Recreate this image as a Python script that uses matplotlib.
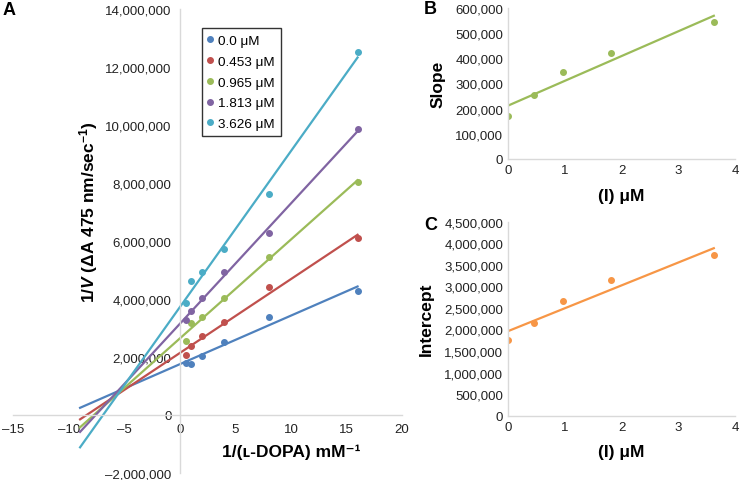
import numpy as np
import matplotlib
matplotlib.use("Agg")
import matplotlib.pyplot as plt
from matplotlib.ticker import FuncFormatter, MultipleLocator

plt.rcParams['font.family'] = ['Liberation Sans', 'DejaVu Sans']
plt.rcParams['mathtext.fontset'] = 'custom'
plt.rcParams['mathtext.rm'] = 'Liberation Sans'
plt.rcParams['mathtext.bf'] = 'Liberation Sans:bold'
plt.rcParams['mathtext.it'] = 'Liberation Sans:italic'
plt.rcParams['mathtext.bfit'] = 'Liberation Sans:italic:bold'

# Lineweaver-Burk data (panel A)
inv_dopa = [0.5, 1, 2, 4, 8, 16]
conc_labels = ["0.0 μM", "0.453 μM", "0.965 μM", "1.813 μM", "3.626 μM"]
inv_v_0000 = [1.79e6, 1.77e6, 2.05e6, 2.53e6, 3.37e6, 4.28e6]
inv_v_0453 = [2.07e6, 2.39e6, 2.71e6, 3.20e6, 4.40e6, 6.09e6]
inv_v_0965 = [2.54e6, 3.16e6, 3.39e6, 4.02e6, 5.43e6, 8.05e6]
inv_v_1813 = [3.29e6, 3.60e6, 4.03e6, 4.92e6, 6.26e6, 9.85e6]
inv_v_3626 = [3.87e6, 4.61e6, 4.92e6, 5.72e6, 7.63e6, 12.53e6]
trend_range = [-9, 16]

# secondary plots (panels B and C)
inhib = [0, 0.453, 0.965, 1.813, 3.626]
slopes = [170000, 256000, 344000, 421000, 544000]
intercepts = [1.754e6, 2.16e6, 2.65e6, 3.15e6, 3.73e6]

colors = ["#4F81BD", "#C0504D", "#9BBB59", "#8064A2", "#4BACC6"]
orange = "#F79646"
spine_col = "#D9D9D9"


def fmt_num(v, pos):
    s = f"{abs(v):,.0f}"
    return "–" + s if v < 0 else s


def style_axes(ax):
    for side in ["top", "right"]:
        ax.spines[side].set_visible(False)
    for side in ["left", "bottom"]:
        ax.spines[side].set_color(spine_col)
        ax.spines[side].set_linewidth(1)
    ax.tick_params(length=0, labelsize=9.5, colors="#222222")
    ax.yaxis.set_major_formatter(FuncFormatter(fmt_num))
    ax.xaxis.set_major_formatter(FuncFormatter(fmt_num))


fig = plt.figure(figsize=(7.4, 4.81), dpi=100)

# ---- panel A
axA = fig.add_axes([0.0182, 0.0146, 0.525, 0.9647])
style_axes(axA)
axA.spines["left"].set_position(("data", 0))
axA.spines["bottom"].set_position(("data", 0))
axA.set_xlim(-15, 20)
axA.set_ylim(-2e6, 14e6)
axA.xaxis.set_major_locator(MultipleLocator(5))
axA.yaxis.set_major_locator(MultipleLocator(2e6))
axA.tick_params(axis="y", pad=6)
axA.tick_params(axis="x", pad=6)

series = [inv_v_0000, inv_v_0453, inv_v_0965, inv_v_1813, inv_v_3626]
xs = np.array(inv_dopa)
xt = np.array(trend_range)
for ys, col, lab in zip(series, colors, conc_labels):
    k, b = np.polyfit(xs, ys, 1)
    axA.plot(xt, k * xt + b, color=col, lw=1.6, zorder=2)
    axA.plot(xs, ys, "o", color=col, ms=4, label=lab, zorder=3)

leg = axA.legend(loc="upper left", bbox_to_anchor=(0.484, 0.958), borderaxespad=0,
                 fancybox=False, edgecolor="black", fontsize=9.7, handlelength=0.4,
                 handletextpad=0.4, labelspacing=0.62, borderpad=0.45, markerscale=1.0)
leg.get_frame().set_linewidth(1)

axA.set_ylabel(r"1/$\mathbfit{V}$ (ΔA 475 nm/sec$^{\mathbf{-1}}$)", fontsize=12.5,
               fontweight="bold")
axA.yaxis.set_label_coords(0.223, 0.565)
axA.set_xlabel("1/(ʟ-DOPA) mM⁻¹", fontsize=12.5, fontweight="bold")
axA.xaxis.set_label_coords(0.714, 0.063)

# ---- panel B
axB = fig.add_axes([0.6865, 0.6674, 0.3068, 0.3139])
style_axes(axB)
axB.set_xlim(0, 4)
axB.set_ylim(0, 600000)
axB.yaxis.set_major_locator(MultipleLocator(100000))
axB.xaxis.set_major_locator(MultipleLocator(1))
k, b = np.polyfit(inhib, slopes, 1)
xb = np.array([0, inhib[-1]])
axB.plot(xb, k * xb + b, color=colors[2], lw=1.6)
axB.plot(inhib, slopes, "o", color=colors[2], ms=4)
axB.set_ylabel("Slope", fontsize=12.5, fontweight="bold")
axB.yaxis.set_label_coords(-0.273, 0.503)
axB.set_xlabel("(I) μM", fontsize=12.5, fontweight="bold")
axB.xaxis.set_label_coords(0.5, -0.192)

# ---- panel C
axC = fig.add_axes([0.6865, 0.1337, 0.3068, 0.4033])
style_axes(axC)
axC.set_xlim(0, 4)
axC.set_ylim(0, 4500000)
axC.yaxis.set_major_locator(MultipleLocator(500000))
axC.xaxis.set_major_locator(MultipleLocator(1))
k, b = np.polyfit(inhib, intercepts, 1)
axC.plot(xb, k * xb + b, color=orange, lw=1.6)
axC.plot(inhib, intercepts, "o", color=orange, ms=4)
axC.set_ylabel("Intercept", fontsize=12.5, fontweight="bold")
axC.yaxis.set_label_coords(-0.326, 0.5)
axC.set_xlabel("(I) μM", fontsize=12.5, fontweight="bold")
axC.xaxis.set_label_coords(0.5, -0.146)

# panel letters
fig.text(0.003, 0.995, "A", fontsize=13, fontweight="bold", va="top")
fig.text(0.573, 0.997, "B", fontsize=13, fontweight="bold", va="top")
fig.text(0.573, 0.548, "C", fontsize=13, fontweight="bold", va="top")

fig.savefig("out.png", dpi=100)
